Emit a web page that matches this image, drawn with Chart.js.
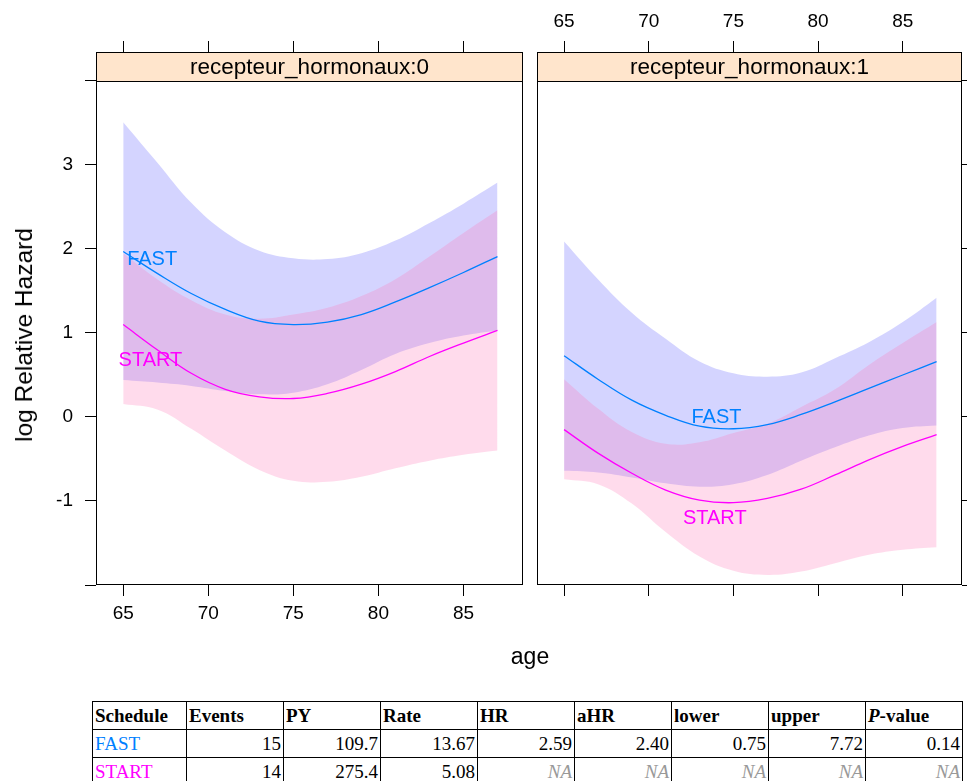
<!DOCTYPE html>
<html>
<head>
<meta charset="utf-8">
<script src="https://cdn.jsdelivr.net/npm/chart.js@4.4.1/dist/chart.umd.min.js"></script>
<style>
  body { margin: 0; background: #fff; width: 967px; height: 781px; overflow: hidden; position: relative;
         font-family: "Liberation Sans", Arial, sans-serif; }
  #panel0 { position: absolute; left: 0; top: 0; }
  #panel1 { position: absolute; left: 530px; top: 0; }
  #ylab { position: absolute; left: 24px; top: 335px; transform: translate(-50%, -50%) rotate(-90deg);
          font-size: 24.5px; white-space: nowrap; color: #000; }
  #xlab { position: absolute; left: 530px; top: 656px; transform: translate(-50%, -50%); font-size: 23px; }
  #tab { position: absolute; left: 92px; top: 701px; border-collapse: collapse;
         font-family: "Liberation Serif", "Times New Roman", serif; font-size: 19px; }
  #tab td { border: 1px solid #000; height: 27px; padding: 0 2px; line-height: 27px; }
  #tab td.num { text-align: right; }
  #tab tr.head td { font-weight: bold; }
  #tab td.na { color: #999; font-style: italic; }
</style>
</head>
<body>
<canvas id="panel0" width="530" height="680"></canvas>
<canvas id="panel1" width="440" height="680"></canvas>
<div id="ylab">log Relative Hazard</div>
<div id="xlab">age</div>
<table id="tab"></table>

<script>
// ages at which the curves were read
const ages = [65, 67, 69, 71, 73, 75, 77, 79, 81, 83, 85, 87];

// panel recepteur_hormonaux:0
const fast0   = [1.97, 1.71, 1.47, 1.28, 1.14, 1.10, 1.13, 1.22, 1.37, 1.54, 1.72, 1.91];
const fast0Hi = [3.51, 3.03, 2.55, 2.20, 1.98, 1.89, 1.88, 1.95, 2.10, 2.31, 2.54, 2.79];
const fast0Lo = [0.44, 0.41, 0.37, 0.31, 0.27, 0.29, 0.39, 0.56, 0.75, 0.88, 0.97, 1.03];
const start0   = [1.10, 0.80, 0.52, 0.33, 0.24, 0.22, 0.28, 0.39, 0.54, 0.72, 0.88, 1.03];
const start0Hi = [1.95, 1.64, 1.39, 1.22, 1.17, 1.22, 1.30, 1.44, 1.64, 1.91, 2.19, 2.46];
const start0Lo = [0.155, 0.09, -0.14, -0.40, -0.63, -0.76, -0.77, -0.71, -0.61, -0.52, -0.45, -0.40];

// panel recepteur_hormonaux:1
const fast1   = [0.73, 0.45, 0.20, 0.02, -0.11, -0.14, -0.09, 0.03, 0.18, 0.34, 0.50, 0.66];
const fast1Hi = [2.09, 1.64, 1.24, 0.93, 0.66, 0.52, 0.48, 0.53, 0.70, 0.89, 1.13, 1.42];
const fast1Lo = [-0.64, -0.66, -0.72, -0.79, -0.83, -0.80, -0.69, -0.52, -0.36, -0.22, -0.13, -0.10];
const start1   = [-0.15, -0.43, -0.67, -0.87, -0.99, -1.02, -0.97, -0.86, -0.69, -0.51, -0.35, -0.21];
const start1Hi = [0.45, 0.10, -0.18, -0.32, -0.30, -0.19, -0.08, 0.12, 0.33, 0.62, 0.88, 1.13];
const start1Lo = [-0.74, -0.80, -1.03, -1.37, -1.66, -1.83, -1.88, -1.84, -1.74, -1.64, -1.58, -1.55];

const stripLabels = ['recepteur_hormonaux:0', 'recepteur_hormonaux:1'];
const xTicks = [65, 70, 75, 80, 85];
const yTicks = [-2, -1, 0, 1, 2, 3, 4];
const yLabelled = [-1, 0, 1, 2, 3];

// in-panel group labels: [age, value]
const fastLabelPos  = [[66.7, 1.88], [74.0, 0.0]];
const startLabelPos = [[66.6, 0.67], [73.9, -1.21]];

// table below the plot
const tableHead = ['Schedule', 'Events', 'PY', 'Rate', 'HR', 'aHR', 'lower', 'upper', 'P-value'];
const fastRow  = ['FAST', '15', '109.7', '13.67', '2.59', '2.40', '0.75', '7.72', '0.14'];
const startRow = ['START', '14', '275.4', '5.08', 'NA', 'NA', 'NA', 'NA', 'NA'];

const FAST_COL = '#0080ff';
const START_COL = '#ff00ff';
const TICK_FONT = { family: 'Liberation Sans, Arial, sans-serif', size: 19 };

function pts(ys) {
    return ages.map((a, i) => ({ x: a, y: ys[i] }));
}

const panelDeco = {
    id: 'panelDeco',
    afterDatasetsDraw(chart, args, opts) {
        const { ctx, chartArea: a, scales } = chart;
        const yStrip = Math.round(scales.y.getPixelForValue(4)) + 0.5;
        const l = Math.round(a.left) + 0.5, r = Math.round(a.right) - 0.5;
        const t = Math.round(a.top) + 0.5, b = Math.round(a.bottom) - 0.5;
        ctx.save();
        ctx.fillStyle = '#ffe5cc';
        ctx.fillRect(l, t, r - l, yStrip - t);
        ctx.strokeStyle = '#000';
        ctx.lineWidth = 1;
        ctx.strokeRect(l, t, r - l, b - t);
        ctx.beginPath();
        ctx.moveTo(l, yStrip);
        ctx.lineTo(r, yStrip);
        ctx.stroke();
        ctx.fillStyle = '#000';
        ctx.textAlign = 'center';
        ctx.textBaseline = 'middle';
        ctx.font = '22.5px "Liberation Sans", Arial, sans-serif';
        ctx.fillText(opts.strip, (l + r) / 2, (t + yStrip) / 2 + 1);

        // group labels
        ctx.font = '20px "Liberation Sans", Arial, sans-serif';
        const x = scales.x, y = scales.y;
        ctx.fillStyle = FAST_COL;
        ctx.fillText('FAST', x.getPixelForValue(opts.fastAt[0]), y.getPixelForValue(opts.fastAt[1]));
        ctx.fillStyle = START_COL;
        ctx.fillText('START', x.getPixelForValue(opts.startAt[0]), y.getPixelForValue(opts.startAt[1]));
        ctx.restore();
    }
};

function makePanel(id, idx, series) {
    const left = idx === 0;
    const tickGrid = { display: true, drawOnChartArea: false, drawTicks: true, tickLength: 11, color: '#000', lineWidth: 1 };
    return new Chart(document.getElementById(id), {
        type: 'line',
        data: {
            datasets: [
                { data: pts(series.fast), borderColor: FAST_COL, borderWidth: 1.3, pointRadius: 0, fill: false, tension: 0.4, order: 0 },
                { data: pts(series.start), borderColor: START_COL, borderWidth: 1.3, pointRadius: 0, fill: false, tension: 0.4, order: 0 },
                { data: pts(series.fastHi), borderWidth: 0, pointRadius: 0, tension: 0.4, fill: '+1',
                  backgroundColor: 'rgba(0,0,255,0.17)', order: 2 },
                { data: pts(series.fastLo), borderWidth: 0, pointRadius: 0, tension: 0.4, fill: false, order: 2 },
                { data: pts(series.startHi), borderWidth: 0, pointRadius: 0, tension: 0.4, fill: '+1',
                  backgroundColor: 'rgba(255,110,180,0.25)', order: 1 },
                { data: pts(series.startLo), borderWidth: 0, pointRadius: 0, tension: 0.4, fill: false, order: 1 }
            ]
        },
        options: {
            responsive: false,
            animation: false,
            layout: { padding: { left: left ? 0 : 7, right: left ? 7 : 0 } },
            plugins: {
                legend: { display: false },
                tooltip: { enabled: false },
                panelDeco: { strip: stripLabels[idx], fastAt: fastLabelPos[idx], startAt: startLabelPos[idx] }
            },
            scales: {
                x: {
                    type: 'linear', position: 'bottom', min: 63.4, max: 88.5,
                    afterBuildTicks: s => { s.ticks = xTicks.map(v => ({ value: v })); },
                    afterFit: s => { s.height = 95; },
                    grid: tickGrid,
                    border: { display: false },
                    ticks: { display: left, color: '#000', font: TICK_FONT, padding: 6, maxRotation: 0 }
                },
                xTop: {
                    type: 'linear', position: 'top', min: 63.4, max: 88.5,
                    afterBuildTicks: s => { s.ticks = xTicks.map(v => ({ value: v })); },
                    afterFit: s => { s.height = 52; },
                    grid: tickGrid,
                    border: { display: false },
                    ticks: { display: !left, color: '#000', font: TICK_FONT, padding: 8, maxRotation: 0 }
                },
                y: {
                    type: 'linear', position: left ? 'left' : 'right', min: -2, max: 4.345,
                    afterBuildTicks: s => { s.ticks = yTicks.map(v => ({ value: v })); },
                    afterFit: s => { s.width = left ? 96 : 8; },
                    grid: tickGrid,
                    border: { display: false },
                    ticks: {
                        display: left, color: '#000', font: TICK_FONT, padding: 12,
                        callback: v => yLabelled.includes(v) ? String(v) : ''
                    }
                }
            }
        },
        plugins: [panelDeco]
    });
}

makePanel('panel0', 0, { fast: fast0, fastHi: fast0Hi, fastLo: fast0Lo, start: start0, startHi: start0Hi, startLo: start0Lo });
makePanel('panel1', 1, { fast: fast1, fastHi: fast1Hi, fastLo: fast1Lo, start: start1, startHi: start1Hi, startLo: start1Lo });

// results table
const colWidths = [94, 97, 97, 97, 97, 97, 97, 97, 97];
const tab = document.getElementById('tab');
function addRow(cells, cls, firstColor) {
    const tr = document.createElement('tr');
    if (cls) tr.className = cls;
    cells.forEach((c, i) => {
        const td = document.createElement('td');
        td.style.width = (colWidths[i] - 5) + 'px';
        if (cls === 'head' && c === 'P-value') {
            td.innerHTML = '<i>P</i>-value';
        } else {
            td.textContent = c;
        }
        if (cls !== 'head' && i > 0) td.className = c === 'NA' ? 'num na' : 'num';
        if (i === 0 && firstColor) td.style.color = firstColor;
        tr.appendChild(td);
    });
    tab.appendChild(tr);
}
addRow(tableHead, 'head');
addRow(fastRow, '', FAST_COL);
addRow(startRow, '', START_COL);
</script>
</body>
</html>
